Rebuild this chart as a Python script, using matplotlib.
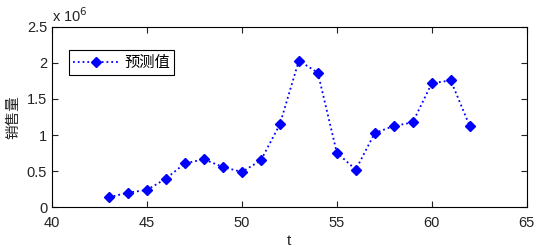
import matplotlib
matplotlib.use("Agg")
import matplotlib.pyplot as plt
from matplotlib.ticker import FuncFormatter

t = list(range(43, 63))
pred = [0.138e6, 0.203e6, 0.240e6, 0.397e6, 0.609e6, 0.664e6, 0.558e6, 0.489e6, 0.650e6,
        1.148e6, 2.030e6, 1.863e6, 0.756e6, 0.521e6, 1.029e6, 1.125e6, 1.176e6, 1.716e6,
        1.757e6, 1.125e6]
legend_label = "预测值"
ylabel = "销售量"
xlabel = "t"

plt.rcParams['font.family'] = ['Liberation Sans', 'Noto Sans CJK SC', 'DejaVu Sans']

fig = plt.figure(figsize=(5.38, 2.48), dpi=100)
ax = fig.add_axes([52/538, 1-207.3/248, (526.7-52)/538, (207.3-26.7)/248])
ax.plot(t, pred, linestyle=':', color='#0000ff', linewidth=1.3, marker='D',
        markersize=5.5, markerfacecolor='#0000ff', markeredgecolor='#0000ff', label=legend_label)
ax.set_xlim(40, 65)
ax.set_ylim(0, 2.5e6)
ax.set_xticks([40, 45, 50, 55, 60, 65])
ax.set_yticks([0, 0.5e6, 1e6, 1.5e6, 2e6, 2.5e6])
ax.yaxis.set_major_formatter(FuncFormatter(lambda v, p: ('%g' % (v/1e6))))
ax.tick_params(direction='in', top=True, right=True, labelsize=10.5, length=4, width=0.8,
               colors='#222222')
ax.tick_params(axis='x', pad=6)
for s in ax.spines.values():
    s.set_linewidth(0.8)
ax.text(0.0, 1.01, r'x 10$^{6}$', transform=ax.transAxes, fontsize=10.5, ha='left', va='bottom',
        color='#222222')
ax.set_xlabel(xlabel, fontsize=11, labelpad=3, color='#222222')
ax.set_ylabel(ylabel, fontsize=10.5, family=['Noto Sans CJK SC'], color='#222222')
ax.yaxis.set_label_coords(-0.066, 0.5)
leg = ax.legend(loc='upper left', bbox_to_anchor=(0.036, 0.87), fancybox=False,
                edgecolor='black', framealpha=1, prop={'family': ['Noto Sans CJK SC'], 'size': 11},
                handlelength=3.0, borderpad=0.25, handletextpad=0.4, borderaxespad=0)
leg.get_frame().set_linewidth(0.8)
fig.savefig('out.png', dpi=100)
